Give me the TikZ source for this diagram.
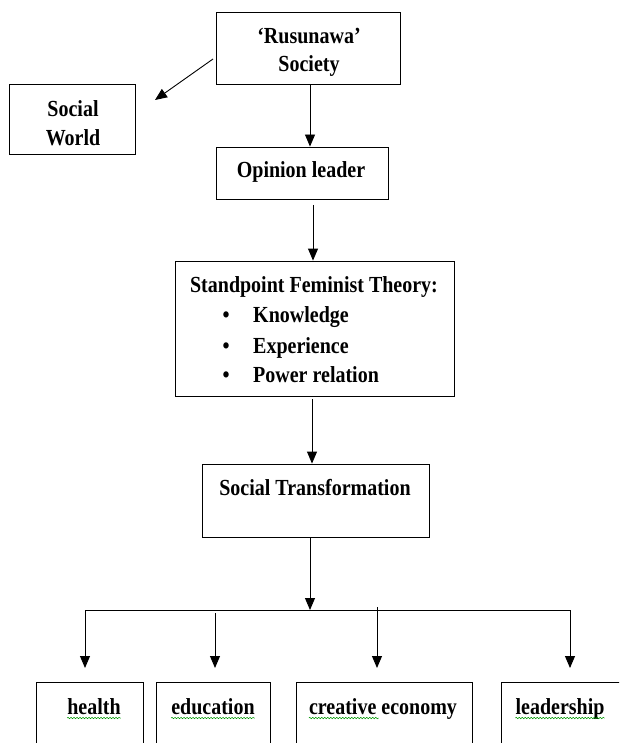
\documentclass[tikz,border=0pt]{standalone}
\usepackage{fontspec}
\setmainfont{Liberation Serif}
\usetikzlibrary{arrows.meta,decorations.pathmorphing,calc}
\newcommand\vs[1]{\scalebox{1}[1.15]{#1}}
\begin{document}
\begin{tikzpicture}[x=1pt,y=-1pt,
 box/.style={draw,line width=0.9pt,inner sep=0pt},
 txt/.style={font=\fontsize{20}{24}\selectfont\bfseries,inner sep=0pt,anchor=base},
 arr/.style={line width=0.9pt,-{Triangle[length=12pt,width=10pt]}},
 ln/.style={line width=0.9pt},
 wavy/.style={draw=green!60!black,decorate,decoration={snake,amplitude=0.7pt,segment length=3pt},line width=0.5pt}]
\useasboundingbox (0,0) rectangle (619,743);
\clip (0,0) rectangle (619,743);
\fill[white] (0,0) rectangle (619,743);
% boxes
\node[box,minimum width=184pt,minimum height=72pt] (rus) at (308,48) {};
\node[box,minimum width=126pt,minimum height=70pt] (sw) at (72,119) {};
\node[box,minimum width=172pt,minimum height=52pt] (ol) at (302,173) {};
\node[box,minimum width=279pt,minimum height=135pt] (sft) at (314.5,328.5) {};
\node[box,minimum width=227pt,minimum height=73pt] (st) at (315.5,500.5) {};
\node[box,minimum width=107pt,minimum height=100pt,anchor=north] (bh) at (89.5,682) {};
\node[box,minimum width=114pt,minimum height=100pt,anchor=north] (be) at (213,682) {};
\node[box,minimum width=176pt,minimum height=100pt,anchor=north] (bc) at (384,682) {};
\node[box,minimum width=130pt,minimum height=100pt,anchor=north] (bl) at (566,682) {};
% texts
\node[txt] (rus1) at (309,44) {\vs{‘Rusunawa’}};
\node[txt] (rus2) at (309,72) {\vs{Society}};
\node[txt] (sw1) at (73,117) {\vs{Social}};
\node[txt] (sw2) at (73,146) {\vs{World}};
\node[txt] (ol1) at (301,178) {\vs{Opinion leader}};
\node[txt] (sft0) at (314,292) {\vs{Standpoint Feminist Theory:}};
\node[txt] (b1) at (226,322) {\vs{\textbullet}};
\node[txt] (b2) at (226,353) {\vs{\textbullet}};
\node[txt] (b3) at (226,382) {\vs{\textbullet}};
\node[txt,anchor=base west] (k) at (253,322) {\vs{Knowledge}};
\node[txt,anchor=base west] (e) at (253,353) {\vs{Experience}};
\node[txt,anchor=base west] (p) at (253,382) {\vs{Power relation}};
\node[txt] (st1) at (315,495) {\vs{Social Transformation}};
\node[txt] (th) at (94,714) {\vs{health}};
\node[txt] (te) at (213,714) {\vs{education}};
\node[txt] (tc) at (383,714) {\vs{creative economy}};
\node[txt] (tl) at (560,714) {\vs{leadership}};
% spell-check underlines
\draw[wavy] ($(th.base west)+(0,4)$) -- ($(th.base east)+(0,4)$);
\draw[wavy] ($(te.base west)+(0,4)$) -- ($(te.base east)+(0,4)$);
\draw[wavy] ($(tc.base west)+(0,4)$) -- ($(tc.base west)+(70,4)$);
\draw[wavy] ($(tl.base west)+(0,4)$) -- ($(tl.base east)+(0,4)$);
% connectors
\coordinate (a1) at (213,59);
\coordinate (a2) at (155,100);
\draw[arr] (a1) -- (a2);
\coordinate (c1) at (310,0);
\draw[arr] (rus.south -| c1) -- (ol.north -| c1);
\coordinate (o1) at (313,205);
\draw[arr] (o1) -- (sft.north -| o1);
\coordinate (s1) at (312,399);
\draw[arr] (s1) -- (st.north -| s1);
\coordinate (hub) at (310,610);
\draw[arr] (st.south -| hub) -- (hub);
\coordinate (hl) at (85,610);
\coordinate (hr) at (570,610);
\draw[ln] (hl) -- (hr);
\coordinate (d1) at (85,668);
\coordinate (d2) at (215,668);
\coordinate (d3) at (377,668);
\coordinate (d4) at (570,668);
\draw[arr] (hl) -- (d1);
\draw[arr] (215,613) -- (d2);
\draw[arr] (377,607) -- (d3);
\draw[arr] (hr) -- (d4);
\end{tikzpicture}
\end{document}
